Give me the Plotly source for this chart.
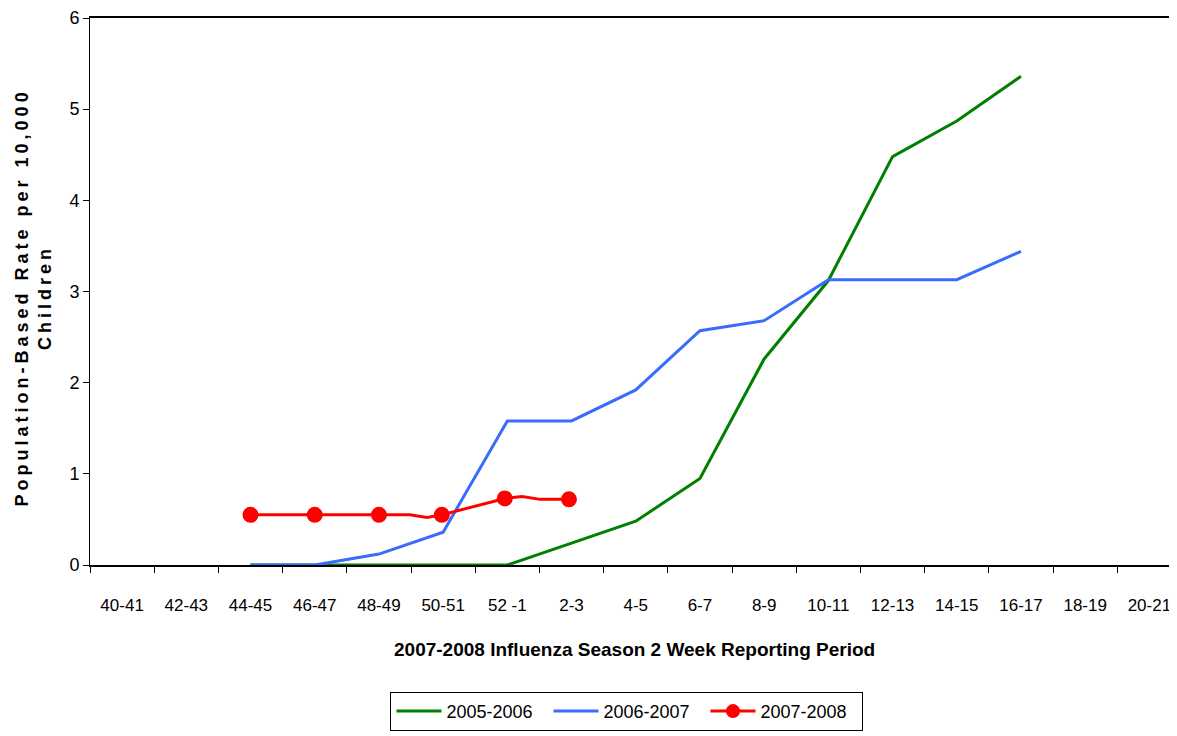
import plotly.graph_objects as go

categories = ["40-41", "42-43", "44-45", "46-47", "48-49", "50-51", "52 -1", "2-3",
              "4-5", "6-7", "8-9", "10-11", "12-13", "14-15", "16-17", "18-19", "20-21"]

# series values at category positions (index into categories)
s2005_x = [2, 3, 4, 5, 6, 7, 8, 9, 10, 11, 12, 13, 14]
s2005_y = [0, 0, 0, 0, 0, 0.24, 0.48, 0.95, 2.26, 3.12, 4.48, 4.87, 5.36]

s2006_x = [2, 3, 4, 5, 6, 7, 8, 9, 10, 11, 12, 13, 14]
s2006_y = [0, 0, 0.12, 0.36, 1.58, 1.58, 1.92, 2.57, 2.68, 3.13, 3.13, 3.13, 3.44]

# 2007-2008 line (weekly resolution) and its marked points
s2007_line_x = [2, 3, 4, 4.48, 4.75, 4.98, 5.96, 6.23, 6.51, 6.96]
s2007_line_y = [0.55, 0.55, 0.55, 0.55, 0.52, 0.55, 0.73, 0.75, 0.72, 0.72]
s2007_mark_x = [2, 3, 4, 4.98, 5.96, 6.96]
s2007_mark_y = [0.55, 0.55, 0.55, 0.55, 0.73, 0.72]

series_names = ["2005-2006", "2006-2007", "2007-2008"]

green = "#008000"
blue = "#3A6BFF"
red = "#FF0000"
font_main = "Liberation Sans Narrow, Arial Narrow, Liberation Sans, Arial, sans-serif"

fig = go.Figure()
fig.add_trace(go.Scatter(x=s2005_x, y=s2005_y, mode="lines", name=series_names[0],
                         line=dict(color=green, width=3)))
fig.add_trace(go.Scatter(x=s2006_x, y=s2006_y, mode="lines", name=series_names[1],
                         line=dict(color=blue, width=3)))
fig.add_trace(go.Scatter(x=s2007_line_x, y=s2007_line_y, mode="lines", showlegend=False,
                         line=dict(color=red, width=3)))
fig.add_trace(go.Scatter(x=s2007_mark_x, y=s2007_mark_y, mode="markers", showlegend=False,
                         marker=dict(color=red, size=16, symbol="circle")))
# legend entry for 2007-2008 showing line + marker
fig.add_trace(go.Scatter(x=[None], y=[None], mode="lines+markers", name=series_names[2],
                         line=dict(color=red, width=3),
                         marker=dict(color=red, size=14, symbol="circle")))

fig.update_layout(
    width=1169, height=728,
    margin=dict(l=82, r=0, t=10, b=171),
    paper_bgcolor="white", plot_bgcolor="white",
    showlegend=True,
    legend=dict(orientation="h", x=0.494, xanchor="center", y=-0.232, yanchor="top",
                bordercolor="black", borderwidth=1,
                font=dict(family=font_main, size=18, color="black"),
                itemwidth=45, entrywidth=97, traceorder="normal"),
    xaxis=dict(range=[-0.5, 16.43], tickmode="array", tickvals=list(range(len(categories))),
               ticktext=categories, ticks="", showgrid=False, zeroline=False,
               showline=True, linecolor="black", linewidth=2, mirror=True,
               ticklabelstandoff=24,
               tickfont=dict(family=font_main, size=17, color="black"),
               minor=dict(ticks="outside", tick0=-0.5, dtick=1, ticklen=6,
                          tickcolor="black", showgrid=False)),
    yaxis=dict(range=[0, 6], tickvals=[0, 1, 2, 3, 4, 5, 6], ticks="outside", ticklen=6,
               tickcolor="black", showgrid=False, zeroline=False, showline=True,
               linecolor="black", linewidth=1,
               tickfont=dict(family=font_main, size=18, color="black")),
    annotations=[
        dict(text="<b>2007-2008 Influenza Season 2 Week Reporting Period</b>", xref="paper", yref="paper",
             x=0.501, y=-0.1536, xanchor="center", yanchor="middle", showarrow=False,
             font=dict(family=font_main, size=19, color="black")),
        dict(text="<b>Population-Based Rate per 10,000<br>Children</b>", xref="paper", yref="paper",
             x=-0.052, y=0.49, xanchor="center", yanchor="middle", showarrow=False, textangle=-90,
             font=dict(family="Liberation Sans, Arial, sans-serif", size=18, color="black")),
    ],
)

post_script = """
var gd = document.getElementById('{plot_id}');
var els = gd.querySelectorAll('.annotation-text');
els.forEach(function(e){
  if (e.textContent.indexOf('Population') === 0) { e.style.letterSpacing = '4px'; }
});
"""

fig.write_html("out.html", post_script=post_script)
